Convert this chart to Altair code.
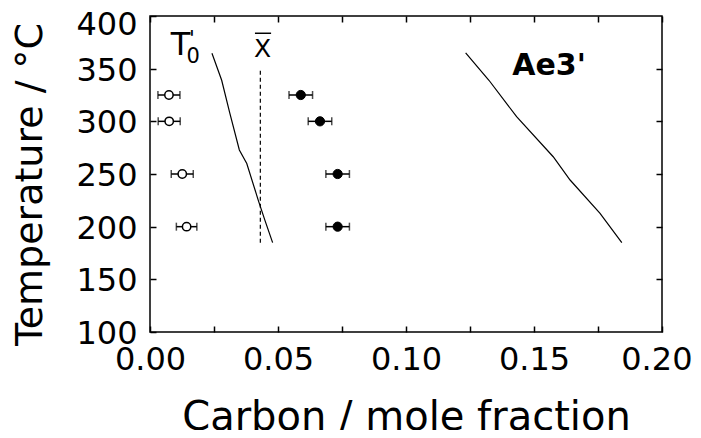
import altair as alt
import pandas as pd

# ---- data ----
temps = [325, 300, 250, 200]
open_c = [0.0074, 0.0075, 0.0126, 0.0143]
open_err = [0.0043, 0.0043, 0.0043, 0.0040]
filled_c = [0.0589, 0.0664, 0.0733, 0.0733]
filled_err = [0.0046, 0.0046, 0.0046, 0.0046]

t0_c = [0.0242, 0.0280, 0.0312, 0.0349, 0.0378, 0.0423, 0.0449, 0.0479]
t0_t = [364.6, 339.0, 307.6, 272.8, 260.0, 225.0, 206.0, 184.8]

ae3_c = [0.1233, 0.1324, 0.1432, 0.1575, 0.1641, 0.1758, 0.1843]
ae3_t = [365.0, 339.0, 304.4, 266.4, 244.3, 212.7, 184.8]

xbar_c = [0.0431]
xbar_t1 = [348.0]
xbar_t2 = [184.2]

x_ticks = [0.0, 0.025, 0.05, 0.075, 0.1, 0.125, 0.15, 0.175, 0.2]
y_ticks = [100, 150, 200, 250, 300, 350, 400]

lab_text = ["T", "0", "'", "X"]
lab_x = [0.0081, 0.0143, 0.0152, 0.0406]
lab_y = [363.0, 355.1, 371.5, 361.4]
lab_size = [32, 21, 21, 25]

# overbar of the X-bar label
bar_x1 = [0.0410]
bar_x2 = [0.0473]
bar_t = [383.6]

bold_text = ["Ae3'"]
bold_x = [0.1559]
bold_y = [344.0]

FONT = "DejaVu Sans"

pts = pd.DataFrame({
    "T": temps * 2,
    "C": open_c + filled_c,
    "lo": [c - e for c, e in zip(open_c, open_err)] + [c - e for c, e in zip(filled_c, filled_err)],
    "hi": [c + e for c, e in zip(open_c, open_err)] + [c + e for c, e in zip(filled_c, filled_err)],
    "kind": ["open"] * 4 + ["filled"] * 4,
})
lines = pd.DataFrame({
    "C": t0_c + ae3_c,
    "T": t0_t + ae3_t,
    "curve": ["T0"] * len(t0_c) + ["Ae3"] * len(ae3_c),
    "i": list(range(len(t0_c))) + list(range(len(ae3_c))),
})
xbar = pd.DataFrame({"C": xbar_c, "T1": xbar_t1, "T2": xbar_t2})
obar = pd.DataFrame({"C1": bar_x1, "C2": bar_x2, "T": bar_t})
labs = pd.DataFrame({"text": lab_text, "C": lab_x, "T": lab_y, "s": lab_size})
blabs = pd.DataFrame({"text": bold_text, "C": bold_x, "T": bold_y})

xs = alt.Scale(domain=[0, 0.2], nice=False, zero=False)
ys = alt.Scale(domain=[100, 400], nice=False, zero=False)

x_axis_bottom = alt.Axis(
    orient="bottom", values=x_ticks, offset=-6, tickSize=6, tickWidth=1.5, tickColor="black",
    domain=False, grid=False, labelFont=FONT, labelFontSize=32, labelColor="black",
    labelPadding=12, labelExpr="round(datum.value*1000) % 50 == 0 ? format(datum.value, '.2f') : ''",
    labelAlign={"condition": {"test": "datum.value > 0.19", "value": "right"}, "value": "center"},
    labelOffset={"condition": {"test": "datum.value > 0.19", "value": 30}, "value": 0},
    title="Carbon / mole fraction", titleFont=FONT, titleFontSize=40, titleFontWeight="normal",
    titleColor="black", titlePadding=22, labelFlush=False, labelOverlap=False,
)
y_axis_left = alt.Axis(
    orient="left", values=y_ticks, offset=-6, tickSize=6, tickWidth=1.5, tickColor="black",
    domain=False, grid=False, labelFont=FONT, labelFontSize=32, labelColor="black",
    labelPadding=13, format="d", labelFlush=False, labelOverlap=False,
    labelOffset={"condition": {"test": "datum.value == 400", "value": 8}, "value": 1.5},
    title="Temperature / °C", titleFont=FONT, titleFontSize=38, titleFontWeight="normal",
    titleColor="black", titlePadding=26, titleY=168,
)
x_axis_top = alt.Axis(
    orient="top", values=x_ticks, offset=-6, tickSize=6, tickWidth=1.5, tickColor="black",
    domain=False, grid=False, labels=False, title=None,
)
y_axis_right = alt.Axis(
    orient="right", values=y_ticks[1:-1], offset=-6, tickSize=6, tickWidth=1.5, tickColor="black",
    domain=False, grid=False, labels=False, title=None,
)

base = alt.Chart(pts)

err = base.mark_rule(color="black", strokeWidth=1.5).encode(
    x=alt.X("lo:Q", scale=xs, axis=x_axis_bottom),
    x2="hi:Q",
    y=alt.Y("T:Q", scale=ys, axis=y_axis_left),
)
caps_lo = base.mark_tick(orient="vertical", size=8, thickness=1.5, color="black").encode(
    x=alt.X("lo:Q", scale=xs, axis=x_axis_top),
    y=alt.Y("T:Q", scale=ys, axis=y_axis_right),
)
caps_hi = base.mark_tick(orient="vertical", size=8, thickness=1.5, color="black").encode(
    x=alt.X("hi:Q", scale=xs, axis=None),
    y=alt.Y("T:Q", scale=ys, axis=None),
)
open_pts = base.transform_filter("datum.kind == 'open'").mark_point(
    shape="circle", size=70, filled=True, fill="white", stroke="black", strokeWidth=1.5, opacity=1
).encode(
    x=alt.X("C:Q", scale=xs, axis=None),
    y=alt.Y("T:Q", scale=ys, axis=None),
)
filled_pts = base.transform_filter("datum.kind == 'filled'").mark_point(
    shape="circle", size=85, filled=True, fill="black", stroke="black", strokeWidth=1, opacity=1
).encode(
    x=alt.X("C:Q", scale=xs, axis=None),
    y=alt.Y("T:Q", scale=ys, axis=None),
)
curves = alt.Chart(lines).mark_line(color="black", strokeWidth=1.2).encode(
    x=alt.X("C:Q", scale=xs, axis=None),
    y=alt.Y("T:Q", scale=ys, axis=None),
    detail="curve:N",
    order="i:Q",
)
dash = alt.Chart(xbar).mark_rule(color="black", strokeWidth=1.2, strokeDash=[4, 3]).encode(
    x=alt.X("C:Q", scale=xs, axis=None),
    y=alt.Y("T1:Q", scale=ys, axis=None),
    y2="T2:Q",
)
overbar = alt.Chart(obar).mark_rule(color="black", strokeWidth=1.5).encode(
    x=alt.X("C1:Q", scale=xs, axis=None),
    x2="C2:Q",
    y=alt.Y("T:Q", scale=ys, axis=None),
)
texts = alt.Chart(labs).mark_text(font=FONT, align="left", baseline="alphabetic", color="black").encode(
    x=alt.X("C:Q", scale=xs, axis=None),
    y=alt.Y("T:Q", scale=ys, axis=None),
    text="text:N",
    size=alt.Size("s:Q", scale=None, legend=None),
)
btexts = alt.Chart(blabs).mark_text(font=FONT, fontSize=30, fontWeight="bold", align="center",
                                    baseline="alphabetic", color="black").encode(
    x=alt.X("C:Q", scale=xs, axis=None),
    y=alt.Y("T:Q", scale=ys, axis=None),
    text="text:N",
)

chart = alt.layer(
    err, caps_lo, caps_hi, curves, dash, overbar, open_pts, filled_pts, texts, btexts
).resolve_axis(x="independent", y="independent").properties(
    width=512, height=316,
    autosize=alt.AutoSizeParams(type="none"),
    padding={"left": 142, "top": 8, "right": 31, "bottom": 98},
    background="white",
).configure_view(stroke="black", strokeWidth=1.5)

chart.save("out.html", embed_options={"renderer": "svg", "actions": False})
